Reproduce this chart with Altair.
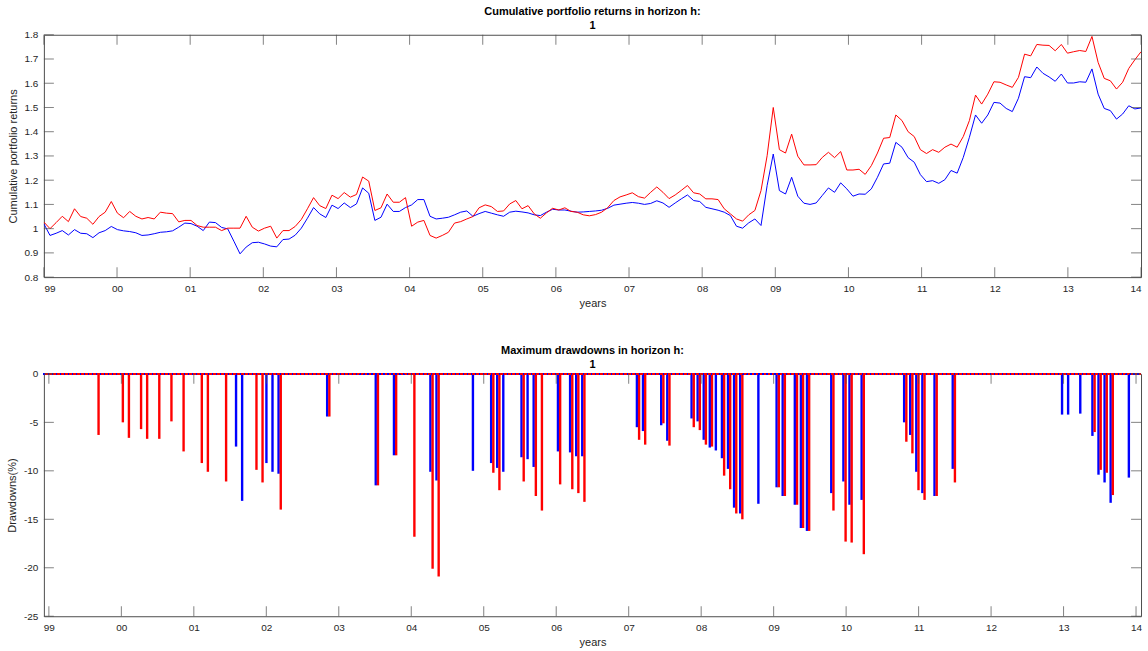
import altair as alt
import pandas as pd

# Cumulative portfolio returns, one value per month (180 months, 1999 .. 2013)
cum_red = [
    1.027, 1.000, 1.025, 1.051, 1.029, 1.082, 1.050, 1.043, 1.018, 1.050,
    1.068, 1.112, 1.064, 1.045, 1.071, 1.051, 1.040, 1.046, 1.040, 1.068,
    1.064, 1.062, 1.028, 1.034, 1.034, 1.013, 1.006, 1.006, 1.006, 0.992,
    1.002, 1.002, 1.002, 1.051, 1.006, 0.990, 1.002, 1.010, 0.961, 0.992,
    0.992, 1.009, 1.038, 1.082, 1.128, 1.095, 1.083, 1.138, 1.124, 1.149,
    1.130, 1.141, 1.213, 1.196, 1.075, 1.086, 1.143, 1.109, 1.109, 1.128,
    1.010, 1.027, 1.034, 0.972, 0.961, 0.972, 0.985, 1.023, 1.029, 1.040,
    1.050, 1.086, 1.098, 1.091, 1.071, 1.073, 1.102, 1.116, 1.082, 1.095,
    1.061, 1.043, 1.065, 1.084, 1.077, 1.086, 1.071, 1.068, 1.057, 1.053,
    1.058, 1.068, 1.087, 1.116, 1.131, 1.139, 1.148, 1.132, 1.126, 1.150,
    1.172, 1.150, 1.124, 1.139, 1.158, 1.178, 1.148, 1.143, 1.123, 1.123,
    1.120, 1.082, 1.061, 1.040, 1.031, 1.057, 1.075, 1.157, 1.301, 1.500,
    1.326, 1.312, 1.390, 1.299, 1.263, 1.263, 1.264, 1.294, 1.315, 1.293,
    1.318, 1.242, 1.242, 1.245, 1.224, 1.260, 1.312, 1.373, 1.376, 1.469,
    1.446, 1.400, 1.380, 1.326, 1.310, 1.326, 1.315, 1.336, 1.349, 1.336,
    1.380, 1.446, 1.551, 1.514, 1.555, 1.606, 1.604, 1.593, 1.583, 1.624,
    1.720, 1.713, 1.760, 1.757, 1.756, 1.734, 1.760, 1.724, 1.730, 1.735,
    1.731, 1.793, 1.686, 1.620, 1.610, 1.576, 1.604, 1.661, 1.697, 1.730,
]
cum_blue = [
    1.020, 0.972, 0.981, 0.992, 0.974, 0.996, 0.981, 0.979, 0.963, 0.983,
    0.992, 1.009, 0.996, 0.991, 0.988, 0.983, 0.972, 0.974, 0.979, 0.985,
    0.987, 0.991, 1.006, 1.023, 1.021, 1.010, 0.992, 1.027, 1.025, 1.005,
    0.999, 0.948, 0.896, 0.924, 0.942, 0.944, 0.937, 0.928, 0.925, 0.955,
    0.957, 0.973, 1.002, 1.043, 1.087, 1.061, 1.046, 1.097, 1.083, 1.106,
    1.087, 1.102, 1.168, 1.146, 1.034, 1.047, 1.101, 1.071, 1.071, 1.087,
    1.098, 1.120, 1.120, 1.051, 1.040, 1.043, 1.047, 1.057, 1.068, 1.073,
    1.051, 1.062, 1.071, 1.064, 1.057, 1.051, 1.068, 1.072, 1.069, 1.065,
    1.057, 1.054, 1.068, 1.080, 1.077, 1.077, 1.072, 1.068, 1.069, 1.071,
    1.073, 1.076, 1.084, 1.097, 1.101, 1.105, 1.108, 1.105, 1.100, 1.104,
    1.115, 1.106, 1.088, 1.106, 1.123, 1.139, 1.116, 1.112, 1.088, 1.082,
    1.076, 1.068, 1.054, 1.010, 1.002, 1.024, 1.040, 1.013, 1.178, 1.308,
    1.157, 1.143, 1.212, 1.134, 1.105, 1.100, 1.106, 1.137, 1.168, 1.150,
    1.189, 1.164, 1.134, 1.143, 1.142, 1.164, 1.212, 1.267, 1.270, 1.356,
    1.336, 1.293, 1.274, 1.223, 1.194, 1.198, 1.187, 1.202, 1.240, 1.229,
    1.294, 1.377, 1.469, 1.435, 1.469, 1.521, 1.518, 1.496, 1.483, 1.538,
    1.627, 1.623, 1.667, 1.641, 1.626, 1.608, 1.638, 1.601, 1.601, 1.606,
    1.604, 1.659, 1.555, 1.496, 1.487, 1.452, 1.473, 1.507, 1.494, 1.498,
]

# Months (index into the monthly series) that carry a drawdown, in %
dd_month = [
    8, 12, 13, 15, 16, 18, 20, 22, 25, 26, 29, 31, 32, 34, 35, 36, 37, 38,
    46, 54, 57, 60, 63, 64, 70, 73, 74, 75, 78, 79, 80, 81, 84, 86, 87, 88,
    97, 98, 101, 102, 106, 107, 108, 109, 110, 111, 112, 113, 114, 117,
    120, 121, 123, 124, 125, 129, 131, 132, 134, 141, 142, 143, 144, 146,
    149, 167, 168, 170, 172, 173, 174, 175, 178,
]
dd_blue = [
    0, 0, 0, 0, 0, 0, 0, 0, 0, 0, 0, -7.5, -13.1, 0, 0, -9.2, -10.1, -10.3,
    -4.4, -11.5, -8.4, 0, -10.1, -11.0, -10.0, -9.2, -9.7, -10.1, -8.6, -8.8, -9.6, 0, -8.0, -8.1, -8.5, -8.5,
    -5.5, -5.9, -5.3, -6.9, -4.6, -4.9, -6.8, -7.6, -7.9, -8.7, -9.8, -13.8, -14.4, -13.4,
    -11.7, -12.6, -13.5, -15.9, -16.2, -12.3, -11.1, -13.5, -13.0, -5.0, -6.3, -10.1, -12.3, -12.6,
    -9.8, -4.2, -4.2, -4.1, -6.4, -10.4, -11.2, -13.3, -10.7,
]
dd_red = [
    -6.3, -5.0, -6.6, -5.7, -6.7, -6.7, -4.9, -8.0, -9.2, -10.1, -11.1, 0, 0, -9.9, -11.2, 0, 0, -14.0,
    -4.4, -11.5, -8.4, -16.8, -20.1, -20.9, 0, -10.2, -12.0, 0, -11.1, 0, -12.6, -14.1, -11.4, -11.9, -12.3, -13.2,
    -6.8, -7.3, -5.1, -7.4, -5.5, -5.8, -7.3, -7.5, 0, -10.5, -11.9, -14.4, -15.0, 0,
    -11.7, -12.6, -13.5, -15.9, -16.2, -14.1, -17.3, -17.4, -18.6, -7.0, -8.2, -12.0, -13.0, -12.6,
    -11.2, 0, 0, 0, -6.0, -9.9, -10.2, -12.5, 0,
]

year_ticks = list(range(1999, 2015))
ret_ticks = [0.8, 0.9, 1, 1.1, 1.2, 1.3, 1.4, 1.5, 1.6, 1.7, 1.8]
dd_ticks = [-25, -20, -15, -10, -5, 0]

N = len(cum_red)


def year_of(i):
    # the monthly observations span the axis from start of 1999 to start of 2014
    return 1999 + 15 * i / (N - 1)


W, H = 1100, 243
TICK = 10
AXIS = "#4d4d4d"
TEXT = "#262626"
FONT = "Liberation Sans"
BLUE = "#0000ff"
RED = "#ff0000"

lines = pd.DataFrame({
    "t": [year_of(i) for i in range(N)] * 2,
    "value": cum_blue + cum_red,
    "series": ["blue"] * N + ["red"] * N,
})
dd = pd.DataFrame({
    "t": [year_of(i) for i in dd_month],
    "blue": dd_blue,
    "red": dd_red,
})
xt = pd.DataFrame({"t": year_ticks})

x_enc = alt.X(
    "t:Q",
    scale=alt.Scale(domain=[1999, 2014], nice=False, zero=False),
    axis=alt.Axis(
        values=year_ticks, labelExpr="slice('' + datum.value, 2)",
        ticks=False, domain=False, grid=False, title="years",
        labelPadding=6, titlePadding=4, labelOverlap=False,
    ),
)


def y_enc(field, domain, title, values):
    return alt.Y(
        f"{field}:Q",
        scale=alt.Scale(domain=domain, nice=False, zero=False),
        axis=alt.Axis(
            values=values, labelExpr="'' + datum.value", ticks=False, domain=False,
            grid=False, title=title, labelPadding=6, titlePadding=6,
            labelOverlap=False, tickCount=len(values),
        ),
    )


def inward_ticks(y, y_field, y_values):
    # MATLAB-style ticks pointing into the plot on all four sides
    yt = pd.DataFrame({y_field: y_values})
    tick = dict(color=AXIS, size=TICK, thickness=1)
    return [
        alt.Chart(xt).mark_tick(**tick).encode(x=x_enc, y=alt.value(H - TICK / 2)),
        alt.Chart(xt).mark_tick(**tick).encode(x=x_enc, y=alt.value(TICK / 2)),
        alt.Chart(yt).mark_tick(**tick).encode(y=y, x=alt.value(TICK / 2)),
        alt.Chart(yt).mark_tick(**tick).encode(y=y, x=alt.value(W - TICK / 2)),
    ]


def title(text):
    return alt.TitleParams(
        [text, "1"], fontSize=11, fontWeight="bold", font=FONT, color="#000000",
        lineHeight=14, offset=-1, anchor="middle",
    )


y_ret = y_enc("value", [0.8, 1.8], "Cumulative portfolio returns", ret_ticks)

ret_lines = alt.Chart(lines).mark_line(strokeWidth=1, clip=True).encode(
    x=x_enc,
    y=y_ret,
    color=alt.Color("series:N", scale=alt.Scale(domain=["blue", "red"], range=[BLUE, RED]),
                    legend=None),
)

top = alt.layer(ret_lines, *inward_ticks(y_ret, "value", ret_ticks)).properties(
    width=W, height=H, title=title("Cumulative portfolio returns in horizon h:")
)

y_dd = y_enc("dd", [-25, 0], "Drawdowns(%)", dd_ticks)

blue_bars = alt.Chart(dd).transform_filter("datum.blue < 0").transform_calculate(
    dd="datum.blue"
).mark_bar(width=2.4, xOffset=-1.1, color=BLUE).encode(x=x_enc, y=y_dd)
red_bars = alt.Chart(dd).transform_filter("datum.red < 0").transform_calculate(
    dd="datum.red"
).mark_bar(width=2.4, xOffset=1.1, color=RED).encode(x=x_enc, y=y_dd)

zero_blue = alt.Chart(dd).mark_rule(color=BLUE, strokeWidth=1.2, strokeDash=[2, 2]).encode(
    y=alt.datum(0), x=alt.value(0), x2=alt.value(W)
)
zero_red = alt.Chart(dd).mark_rule(
    color=RED, strokeWidth=1.2, strokeDash=[2, 2], strokeDashOffset=2
).encode(y=alt.datum(0), x=alt.value(0), x2=alt.value(W))

bottom = alt.layer(
    blue_bars, red_bars, zero_blue, zero_red, *inward_ticks(y_dd, "dd", dd_ticks)
).properties(width=W, height=H, title=title("Maximum drawdowns in horizon h:"))

chart = alt.vconcat(top, bottom, spacing=35).properties(
    padding={"left": 6, "top": 4, "right": 5, "bottom": 2},
    background="white",
).configure_view(stroke=AXIS, strokeWidth=1).configure_axis(
    labelFont=FONT, labelFontSize=10, labelColor=TEXT,
    titleFont=FONT, titleFontSize=11, titleFontWeight="normal", titleColor=TEXT,
)

chart.save("out.html", embed_options={"renderer": "svg", "actions": False})
